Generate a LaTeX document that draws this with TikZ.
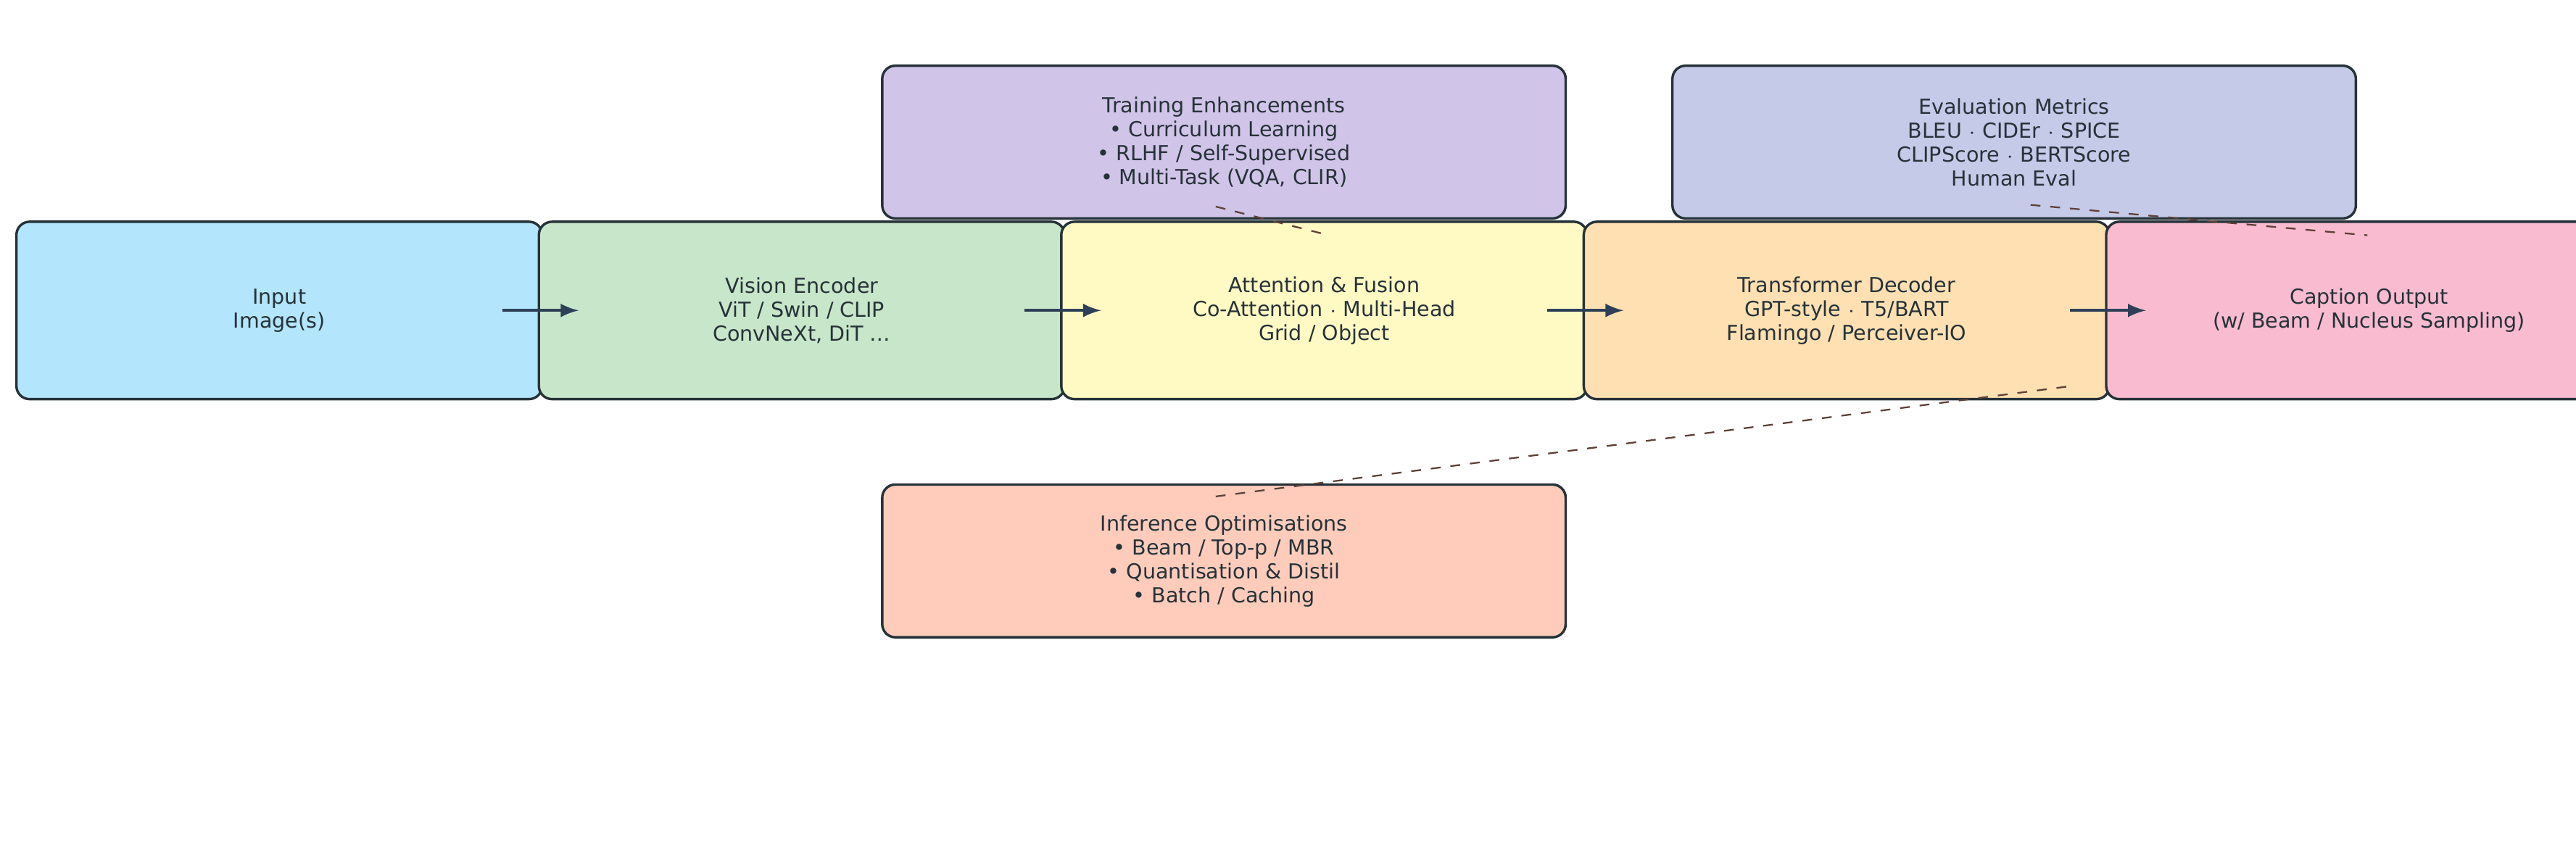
\documentclass[tikz,border=0pt]{standalone}
\usepackage{fontspec}
\setmainfont{DejaVu Sans}
\usetikzlibrary{positioning, calc}
\definecolor{edgedark}{HTML}{263238}
\definecolor{arrowblue}{HTML}{2E4057}
\definecolor{linkbrown}{HTML}{5D4037}
\definecolor{inputblue}{HTML}{B3E5FC}
\definecolor{visiongreen}{HTML}{C8E6C9}
\definecolor{fusionyellow}{HTML}{FFF9C4}
\definecolor{decoderorange}{HTML}{FFE0B2}
\definecolor{captionpink}{HTML}{F8BBD0}
\definecolor{trainpurple}{HTML}{D1C4E9}
\definecolor{evalindigo}{HTML}{C5CAE9}
\definecolor{inferpeach}{HTML}{FFCCBC}

\begin{document}
\begin{tikzpicture}[x=0.5pt, y=-0.5pt,
    stage/.style={draw=edgedark, line width=0.75pt, rounded corners=4pt,
        minimum width=160pt, minimum height=54pt, align=center,
        font=\fontsize{6.3}{7.3}\selectfont, text=edgedark},
    aux/.style={stage, minimum width=208pt, minimum height=46.5pt},
    flow/.style={-latex, line width=0.9pt, draw=arrowblue},
    link/.style={dashed, line width=0.5pt, draw=linkbrown}]
    \useasboundingbox (0,0) rectangle (1568,518);

    % Main pipeline
    \node[stage, fill=inputblue] (input) at (170,189) {Input\\Image(s)};
    \node[stage, fill=visiongreen] (vision) at (488,189) {Vision Encoder\\ViT / Swin / CLIP\\ConvNeXt, DiT \dots};
    \node[stage, fill=fusionyellow] (fusion) at (806,189) {Attention \& Fusion\\Co-Attention $\cdot$ Multi-Head\\Grid / Object};
    \node[stage, fill=decoderorange] (decoder) at (1124,189) {Transformer Decoder\\GPT-style $\cdot$ T5/BART\\Flamingo / Perceiver-IO};
    \node[stage, fill=captionpink] (caption) at (1442,189) {Caption Output\\(w/ Beam / Nucleus Sampling)};

    % Side boxes
    \node[aux, fill=trainpurple] (train) at (745,86.5) {Training Enhancements\\• Curriculum Learning\\• RLHF / Self-Supervised\\• Multi-Task (VQA, CLIR)};
    \node[aux, fill=evalindigo] (eval) at (1226,86.5) {Evaluation Metrics\\BLEU $\cdot$ CIDEr $\cdot$ SPICE\\CLIPScore $\cdot$ BERTScore\\Human Eval};
    \node[aux, fill=inferpeach] (infer) at (745,341.5) {Inference Optimisations\\• Beam / Top-p / MBR\\• Quantisation \& Distil\\• Batch / Caching};

    % Arrows
    \draw[flow] ($(input.east)+(-25,0)$) -- ($(vision.west)+(25,0)$);
    \draw[flow] ($(vision.east)+(-25,0)$) -- ($(fusion.west)+(25,0)$);
    \draw[flow] ($(fusion.east)+(-25,0)$) -- ($(decoder.west)+(25,0)$);
    \draw[flow] ($(decoder.east)+(-25,0)$) -- ($(caption.west)+(25,0)$);

    % Dashed links
    \draw[link] ($(train.south)+(-5,-8)$) -- ($(fusion.north)+(-1,8)$);
    \draw[link] ($(eval.south)+(10,-9)$) -- ($(caption.north)+(-1,9)$);
    \draw[link] ($(infer.north)+(-5,8)$) -- ($(decoder.south)+(139,-9)$);
\end{tikzpicture}
\end{document}
